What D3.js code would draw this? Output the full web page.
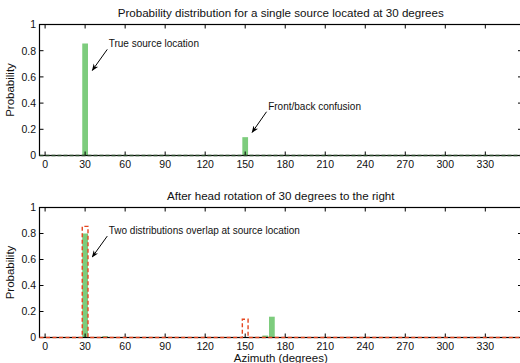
<!DOCTYPE html>
<html><head><meta charset="utf-8">
<script src="https://cdn.jsdelivr.net/npm/d3@7"></script>
<style>body{margin:0;background:#fff}svg{display:block}text{font-family:"Liberation Sans",Arial,sans-serif;fill:#111}</style>
</head><body><svg id="c" width="520" height="363"></svg>
<script>
// ---- data ----
const xTicks = [0,30,60,90,120,150,180,210,240,270,300,330];
const yTicks = [0,0.2,0.4,0.6,0.8,1];
const yTickLabels = ["0","0.2","0.4","0.6","0.8","1"];
const topAzimuth = [30,150];
const topProb = [0.855,0.14];
const afterAzimuth = [30,45,165,170];
const afterProb = [0.80,0.01,0.015,0.16];
const beforeAzimuth = [30,150];
const beforeProb = [0.855,0.14];
const titles = ["Probability distribution for a single source located at 30 degrees","After head rotation of 30 degrees to the right"];
const annotations = [
  {panel:0, text:"True source location", tx:47.7, ty:0.83, from:[46.6,0.81], to:[35.4,0.65]},
  {panel:0, text:"Front/back confusion", tx:167.2, ty:0.347, from:[166,0.334], to:[155.2,0.177]},
  {panel:1, text:"Two distributions overlap at source location", tx:47.7, ty:0.796, from:[46.6,0.78], to:[35.4,0.62]}
];
// ---- layout ----
const svg = d3.select("#c");
const green = "#7dcc7d", red = "#e5461f";
const binW = 4.3;
const x = d3.scaleLinear().domain([-4.2,357.5]).range([39.5,522]);
const panels = [{top:24.5,bottom:155.5},{top:207.5,bottom:337.5}];
panels.forEach((p,i)=>{
  p.y = d3.scaleLinear().domain([0,1]).range([p.bottom,p.top]);
  p.g = svg.append("g");
});
function drawAxes(p,i){
  const g=p.g, y=p.y;
  g.append("text").attr("x",(x.range()[0]+x.range()[1])/2).attr("y",p.top-8)
    .attr("text-anchor","middle").style("font-size","11.6px").text(titles[i]);
  g.append("text").attr("transform",`translate(13.5,${(p.top+p.bottom)/2}) rotate(-90)`)
    .attr("text-anchor","middle").style("font-size","11.5px").text("Probability");
  const tl=4;
  xTicks.forEach(t=>{
    g.append("line").attr("x1",x(t)).attr("x2",x(t)).attr("y1",p.bottom).attr("y2",p.bottom-tl).attr("stroke","#000");
    g.append("line").attr("x1",x(t)).attr("x2",x(t)).attr("y1",p.top).attr("y2",p.top+tl).attr("stroke","#000");
    g.append("text").attr("x",x(t)).attr("y",p.bottom+12).attr("text-anchor","middle").style("font-size","10.5px").text(t);
  });
  yTicks.forEach((t,k)=>{
    g.append("line").attr("x1",x.range()[0]).attr("x2",x.range()[0]+tl).attr("y1",y(t)).attr("y2",y(t)).attr("stroke","#000");
    g.append("line").attr("x1",x.range()[1]).attr("x2",x.range()[1]-tl).attr("y1",y(t)).attr("y2",y(t)).attr("stroke","#000");
    g.append("text").attr("x",x.range()[0]-3.5).attr("y",y(t)+3.8).attr("text-anchor","end").style("font-size","10.5px").text(yTickLabels[k]);
  });
  g.append("rect").attr("x",x.range()[0]).attr("y",p.top).attr("width",x.range()[1]-x.range()[0])
    .attr("height",p.bottom-p.top).attr("fill","none").attr("stroke","#000").attr("stroke-width",1.2);
}
function drawBars(p,az,pr){
  p.g.selectAll(null).data(az).enter().append("rect")
    .attr("x",d=>x(d-binW/2)).attr("width",x(binW)-x(0))
    .attr("y",(d,k)=>p.y(pr[k])).attr("height",(d,k)=>p.y(0)-p.y(pr[k]))
    .attr("fill",green);
}
drawBars(panels[0],topAzimuth,topProb);
drawAxes(panels[0],0);
panels[0].g.append("line").attr("x1",x.range()[0]).attr("x2",x.range()[1]).attr("y1",panels[0].y(0)).attr("y2",panels[0].y(0))
  .attr("stroke","#2a4a2a").attr("stroke-width",1.4).attr("stroke-dasharray","4,2");
drawBars(panels[1],afterAzimuth,afterProb);
drawAxes(panels[1],1);
(function(){
  const p=panels[1], y=p.y;
  const path=d3.path();
  path.moveTo(x.range()[0],y(0));
  beforeAzimuth.forEach((a,k)=>{
    path.lineTo(x(a-binW/2),y(0));
    path.lineTo(x(a-binW/2),y(beforeProb[k]));
    path.lineTo(x(a+binW/2),y(beforeProb[k]));
    path.lineTo(x(a+binW/2),y(0));
  });
  path.lineTo(x.range()[1],y(0));
  p.g.append("path").attr("d",path.toString()).attr("fill","none").attr("stroke",red)
    .attr("stroke-width",1.4).attr("stroke-dasharray","4,2.5");
  p.g.append("text").attr("x",x.range()[0]+(x.range()[1]-x.range()[0])/2).attr("y",p.bottom+24)
    .attr("text-anchor","middle").style("font-size","11.5px").text("Azimuth (degrees)");
})();
svg.append("defs").append("marker").attr("id","ah").attr("viewBox","0 0 10 10").attr("refX",9).attr("refY",5)
  .attr("markerWidth",7).attr("markerHeight",7).attr("orient","auto")
  .append("path").attr("d","M0,1 L10,5 L0,9 L3,5 Z").attr("fill","#000");
annotations.forEach(a=>{
  const p=panels[a.panel];
  p.g.append("text").attr("x",x(a.tx)).attr("y",p.y(a.ty)).style("font-size","10px").text(a.text);
  p.g.append("line").attr("x1",x(a.from[0])).attr("y1",p.y(a.from[1])).attr("x2",x(a.to[0])).attr("y2",p.y(a.to[1]))
    .attr("stroke","#000").attr("stroke-width",1).attr("marker-end","url(#ah)");
});
</script></body></html>
